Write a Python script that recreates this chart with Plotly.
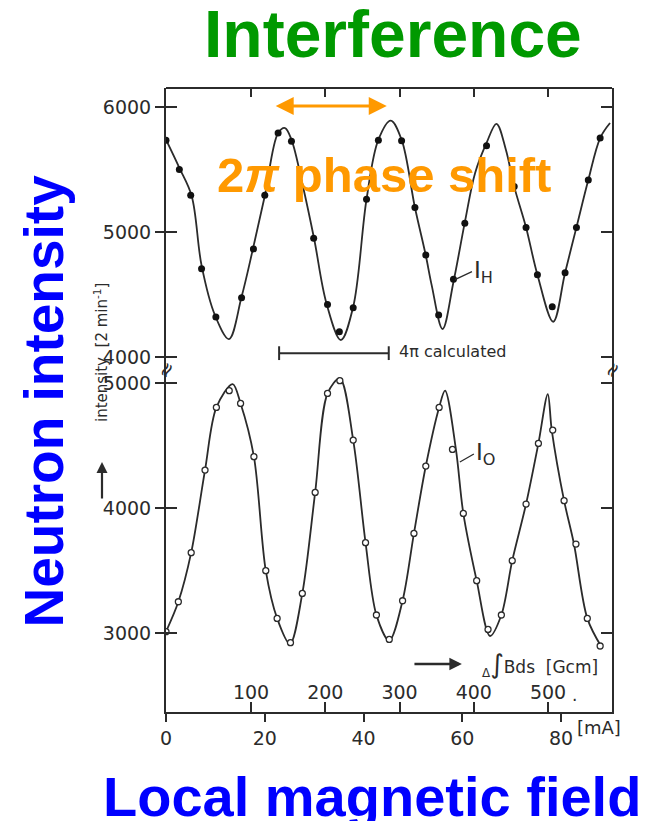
import plotly.graph_objects as go

# ---------------- data ----------------
# upper interferogram I_H : measured points (coil current in mA, counts / 2 min)
ih_ma = [0.0, 2.7, 5.0, 7.2, 10.1, 15.3, 17.7, 20.0, 22.7, 25.4, 29.9, 32.7, 35.1, 37.9, 40.6,
         43.0, 47.7, 50.4, 52.6, 55.2, 58.2, 60.5, 64.9, 70.5, 72.9, 75.2, 78.2, 80.8, 83.1, 85.5, 87.9]
ih_cnt = [5733, 5500, 5294, 4706, 4320, 4474, 4865, 5294, 5791, 5725, 4950, 4421, 4204, 4394, 5262,
          5733, 5730, 5196, 4817, 4336, 4622, 5071, 5690, 5363, 5037, 4659, 4402, 4675, 5037, 5415, 5751]

# upper fitted curve
ih_fit_ma = [0, 2.7, 5.2, 7.2, 9.9, 12.75, 15.3, 17.6, 20.0, 22.7, 24.1, 25.4, 27.7, 30.0, 32.5, 35.4,
             37.9, 40.6, 43.0, 45.5, 47.7, 50.4, 52.6, 53.8, 56.0, 58.2, 60.5, 62.6, 64.9, 66.9, 68.8,
             70.5, 72.9, 75.2, 78.4, 80.8, 83.1, 85.5, 87.9, 89.9]
ih_fit = [5738, 5513, 5288, 4733, 4336, 4145, 4482, 4865, 5288, 5791, 5831, 5738, 5370, 4944, 4429, 4137,
          4402, 5262, 5738, 5891, 5738, 5196, 4812, 4574, 4225, 4601, 5077, 5474, 5712, 5865, 5660,
          5363, 5037, 4659, 4283, 4675, 5037, 5415, 5751, 5871]

# lower interferogram I_O : measured points
io_ma = [0.0, 2.5, 5.1, 7.9, 10.2, 12.8, 15.1, 17.8, 20.2, 22.5, 25.2, 27.6, 30.2, 32.7, 35.2, 37.9,
         40.4, 42.6, 45.2, 47.9, 50.2, 52.6, 55.3, 58.0, 60.2, 62.9, 65.2, 67.9, 70.1, 72.9, 75.4, 78.3,
         80.6, 83.0, 85.3, 87.9]
io_cnt = [3011, 3250, 3643, 4304, 4805, 4939, 4837, 4411, 3499, 3117, 2923, 3317, 4125, 4917, 5019, 4544,
          3723, 3144, 2949, 3258, 3797, 4336, 4805, 4469, 3957, 3419, 3029, 3144, 3579, 4032, 4517, 4624,
          4059, 3712, 3117, 2896]

# lower fitted curve
io_fit_ma = [0, 2.5, 5.1, 7.9, 10.2, 13.5, 15.1, 17.8, 20.2, 22.5, 25.1, 27.6, 30.2, 32.7, 35.2, 37.9,
             40.4, 42.6, 45.2, 47.9, 50.2, 52.6, 55.3, 56.5, 58.7, 60.2, 62.9, 65.6, 67.9, 70.1, 72.9,
             75.4, 77.3, 78.1, 80.6, 82.6, 85.3, 88.2]
io_fit = [3011, 3250, 3643, 4304, 4805, 4992, 4837, 4411, 3499, 3117, 2912, 3317, 4125, 4917, 5037, 4544,
          3723, 3144, 2939, 3259, 3797, 4336, 4805, 4939, 4469, 3957, 3419, 2976, 3144, 3579, 4032,
          4517, 4912, 4624, 4059, 3712, 3117, 2886]

# axes
ma_ticks = [0, 20, 40, 60, 80]
bds_ticks = [100, 200, 300, 400, 500]
upper_ticks = [4000, 5000, 6000]
lower_ticks = [3000, 4000, 5000]

ma_range = [0, 90.3]
bds_range = [-14.5, 586.2]
upper_range = [3897, 6151]
lower_range = [2368, 5104]

INK = "#2b2b2b"
SCAN_FONT = "DejaVu Sans"
BIG_FONT = "Liberation Sans"

fig = go.Figure()

fig.add_trace(go.Scatter(x=ih_fit_ma, y=ih_fit, mode="lines", xaxis="x", yaxis="y",
                         line=dict(color=INK, width=1.8, shape="spline", smoothing=1.0),
                         showlegend=False, hoverinfo="skip"))
fig.add_trace(go.Scatter(x=ih_ma, y=ih_cnt, mode="markers", xaxis="x", yaxis="y",
                         marker=dict(color="#111", size=7), showlegend=False))
fig.add_trace(go.Scatter(x=io_fit_ma, y=io_fit, mode="lines", xaxis="x", yaxis="y2",
                         line=dict(color=INK, width=1.8, shape="spline", smoothing=0.9),
                         showlegend=False, hoverinfo="skip"))
fig.add_trace(go.Scatter(x=io_ma, y=io_cnt, mode="markers", xaxis="x", yaxis="y2",
                         marker=dict(color="white", size=6, line=dict(color=INK, width=1.3)),
                         showlegend=False))
# dummy traces so that the overlay axes are drawn
for xa, ya in [("x2", "y2"), ("x3", "y"), ("x", "y3"), ("x", "y4")]:
    fig.add_trace(go.Scatter(x=[None], y=[None], xaxis=xa, yaxis=ya, showlegend=False, hoverinfo="skip"))

tickfont = dict(family=SCAN_FONT, size=19, color=INK)
SPLIT = 0.548

fig.update_layout(
    width=648, height=821,
    margin=dict(l=166, r=36, t=88, b=109),
    paper_bgcolor="white", plot_bgcolor="white",
    xaxis=dict(domain=[0, 1], range=ma_range, anchor="y2", tickvals=ma_ticks,
               ticks="outside", ticklen=8, tickwidth=1.6, tickcolor=INK, tickfont=tickfont,
               showline=True, linewidth=2, linecolor=INK, showgrid=False, zeroline=False),
    xaxis2=dict(overlaying="x", anchor="y2", side="bottom", range=bds_range, tickvals=bds_ticks,
                ticks="inside", ticklen=10, tickwidth=1.6, tickcolor=INK,
                ticklabelposition="inside", tickfont=tickfont,
                showline=False, showgrid=False, zeroline=False),
    xaxis3=dict(overlaying="x", anchor="free", position=1, side="top", range=bds_range,
                tickvals=bds_ticks, ticks="inside", ticklen=8, tickwidth=1.6, tickcolor=INK,
                showticklabels=False, showline=True, linewidth=2, linecolor=INK,
                showgrid=False, zeroline=False),
    yaxis=dict(domain=[SPLIT, 1], range=upper_range, anchor="x", tickvals=upper_ticks,
               ticks="outside", ticklen=9, tickwidth=1.6, tickcolor=INK, tickfont=tickfont,
               showline=True, mirror=True, linewidth=2, linecolor=INK,
               showgrid=False, zeroline=False),
    yaxis3=dict(overlaying="y", anchor="x", range=upper_range, tickvals=upper_ticks,
                ticks="inside", ticklen=11, tickwidth=1.6, tickcolor=INK, mirror="allticks",
                showticklabels=False, showline=False, showgrid=False, zeroline=False),
    yaxis2=dict(domain=[0, SPLIT], range=lower_range, anchor="x", tickvals=lower_ticks,
                ticks="outside", ticklen=9, tickwidth=1.6, tickcolor=INK, tickfont=tickfont,
                showline=True, mirror=True, linewidth=2, linecolor=INK,
                showgrid=False, zeroline=False),
    yaxis4=dict(overlaying="y2", anchor="x", range=lower_range, tickvals=lower_ticks,
                ticks="inside", ticklen=11, tickwidth=1.6, tickcolor=INK, mirror="allticks",
                showticklabels=False, showline=False, showgrid=False, zeroline=False),
)

# "4π calculated" bar
bar_x = [22.9, 45.1]
bar_y = 4032
fig.add_shape(type="line", xref="x", yref="y", x0=bar_x[0], x1=bar_x[1], y0=bar_y, y1=bar_y,
              line=dict(color=INK, width=2))
for bx in bar_x:
    fig.add_shape(type="line", xref="x", yref="y", x0=bx, x1=bx, y0=bar_y - 55, y1=bar_y + 55,
                  line=dict(color=INK, width=2))

ann = []
# overlay titles
ann.append(dict(text="<b>Interference</b>", xref="paper", yref="paper", x=0.510, y=1.0865,
                xanchor="center", yanchor="middle", showarrow=False,
                font=dict(family=BIG_FONT, size=66, color="#009900")))
ann.append(dict(text="<b>2<i>π</i> phase shift</b>", xref="paper", yref="paper", x=0.4899, y=0.8606,
                xanchor="center", yanchor="middle", showarrow=False,
                font=dict(family=BIG_FONT, size=49, color="#FF9900")))
ann.append(dict(text="<b>Neutron intensity</b>", xref="paper", yref="paper", x=-0.2735, y=0.4976,
                xanchor="center", yanchor="middle", showarrow=False, textangle=-90,
                font=dict(family=BIG_FONT, size=55, color="#0000FF")))
ann.append(dict(text="<b>Local magnetic field</b>", xref="paper", yref="paper", x=0.463, y=-0.1362,
                xanchor="center", yanchor="middle", showarrow=False,
                font=dict(family=BIG_FONT, size=56, color="#0000FF")))
# orange double arrow (2π)
ann.append(dict(x=44.7, y=6008, ax=21.9, ay=6008, xref="x", yref="y", axref="x", ayref="y",
                text="", showarrow=True, arrowside="end+start", arrowhead=2, arrowsize=1.2,
                arrowwidth=3, arrowcolor="#FF9900"))
# curve labels
ann.append(dict(x=58.5, y=4620, xref="x", yref="y", ax=17, ay=-8, text="I<sub>H</sub>",
                xanchor="left", yanchor="middle", showarrow=True, arrowhead=0, arrowwidth=1.3,
                arrowcolor=INK, font=dict(family=SCAN_FONT, size=23, color=INK)))
ann.append(dict(x=59.5, y=4368, xref="x", yref="y2", ax=14, ay=-8, text="I<sub>O</sub>",
                xanchor="left", yanchor="middle", showarrow=True, arrowhead=0, arrowwidth=1.3,
                arrowcolor=INK, font=dict(family=SCAN_FONT, size=23, color=INK)))
ann.append(dict(x=46.8, y=4045, xref="x", yref="y", text="4π calculated", showarrow=False,
                xanchor="left", yanchor="middle", font=dict(family=SCAN_FONT, size=16, color=INK)))
# ∫Bds arrow + label
ann.append(dict(x=59.9, y=2752, ax=50.0, ay=2752, xref="x", yref="y2", axref="x", ayref="y2",
                text="", showarrow=True, arrowhead=2, arrowsize=1, arrowwidth=2.5, arrowcolor=INK))
ann.append(dict(x=63.6, y=2752, xref="x", yref="y2",
                text="<sub>Δ</sub><span style=\"font-size:26px\">∫</span>Bds  [Gcm]", showarrow=False,
                xanchor="left", yanchor="middle", font=dict(family=SCAN_FONT, size=17, color=INK)))
ann.append(dict(x=82.8, y=2504, xref="x", yref="y2", text=".", showarrow=False,
                xanchor="center", yanchor="middle", font=dict(family=SCAN_FONT, size=17, color=INK)))
ann.append(dict(x=0.917, y=-0.0256, xref="paper", yref="paper", text="[mA]", showarrow=False,
                xanchor="left", yanchor="middle", font=dict(family=SCAN_FONT, size=18, color=INK)))
# scanned y-axis caption
ann.append(dict(x=-0.1457, y=0.5753, xref="paper", yref="paper", text="intensity  [2 min<sup>-1</sup>]",
                showarrow=False, textangle=-90, xanchor="center", yanchor="middle",
                font=dict(family=SCAN_FONT, size=15, color=INK)))
ann.append(dict(x=-0.1435, y=0.4006, xref="paper", yref="paper", ax=0, ay=38, text="",
                showarrow=True, arrowhead=2, arrowsize=1, arrowwidth=2.2, arrowcolor=INK))
# axis break marks
for bx in [0, 1]:
    ann.append(dict(x=bx, y=SPLIT, xref="paper", yref="paper", text="≈", showarrow=False,
                    xanchor="center", yanchor="middle", textangle=-60,
                    font=dict(family=SCAN_FONT, size=20, color=INK)))

fig.update_layout(annotations=ann)
fig.write_html("out.html")
